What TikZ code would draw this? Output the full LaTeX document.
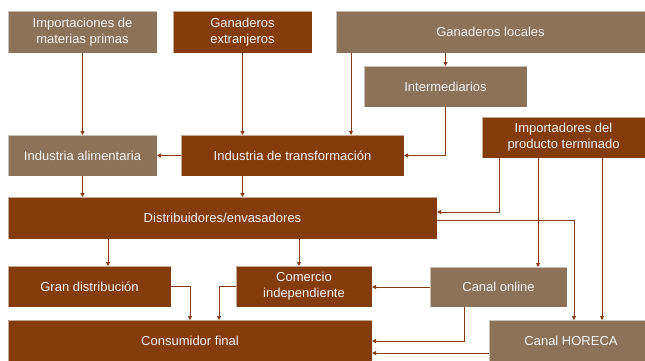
\documentclass[tikz,border=0pt]{standalone}
\usepackage{fontspec}
\setmainfont{Liberation Sans}
\usetikzlibrary{arrows.meta}
\definecolor{dbrown}{HTML}{843C0C}
\definecolor{gbrown}{HTML}{8B7259}
\definecolor{txt}{HTML}{F4F4F4}
\tikzset{
  box/.style={rectangle, inner sep=0pt, outer sep=0pt, draw=white, draw opacity=0.55,
    line width=0.6pt, text=txt, align=center,
    font=\fontsize{13}{16}\selectfont},
  dbox/.style={box, fill=dbrown},
  gbox/.style={box, fill=gbrown},
  arr/.style={draw=dbrown, line width=1pt, -{Triangle[length=4pt,width=4pt]}}
}
\begin{document}
\begin{tikzpicture}[x=1pt,y=-1pt]
\useasboundingbox (0,0) rectangle (645,360);
\clip (0,0) rectangle (645,360);
% boxes
\node[gbox, minimum width=149pt, minimum height=42pt] (imp) at (82.5,32) {Importaciones de\\materias primas};
\node[dbox, minimum width=139pt, minimum height=42pt] (gext) at (242.5,32) {Ganaderos\\extranjeros};
\node[gbox, minimum width=309pt, minimum height=42pt] (gloc) at (490.5,32) {Ganaderos locales};
\node[gbox, minimum width=163pt, minimum height=41pt] (inter) at (445.5,86.5) {Intermediarios};
\node[gbox, minimum width=149pt, minimum height=41pt] (ialim) at (82.5,155.5) {Industria alimentaria};
\node[dbox, minimum width=223pt, minimum height=41pt] (itrans) at (292.5,155.5) {Industria de transformación};
\node[dbox, minimum width=163pt, minimum height=41pt] (impt) at (563.5,137.5) {Importadores del\\producto terminado};
\node[dbox, minimum width=429pt, minimum height=42pt] (dist) at (222.5,218) {Distribuidores/envasadores};
\node[dbox, minimum width=163pt, minimum height=41pt] (gran) at (89.5,286.5) {Gran distribución};
\node[dbox, minimum width=136pt, minimum height=41pt] (comer) at (304,286.5) {Comercio\\independiente};
\node[gbox, minimum width=137pt, minimum height=40pt] (online) at (498.5,287) {Canal online};
\node[dbox, minimum width=364pt, minimum height=42pt] (cons) at (190,341) {Consumidor final};
\node[gbox, minimum width=164pt, minimum height=42pt] (horeca) at (571,341) {Canal HORECA};
% connectors
\draw[arr] (imp.south) -- (ialim.north);
\draw[arr] (gext.south) -- ([xshift=-50pt]itrans.north);
\draw[arr] ([xshift=15pt]gloc.south west) -- ([xshift=-53pt]itrans.north east);
\draw[arr] ([xshift=-45pt]gloc.south) -- (inter.north);
\draw[arr] (inter.south) |- (itrans.east);
\draw[arr] (itrans.west) -- (ialim.east);
\draw[arr] (ialim.south) -- ([xshift=-140pt]dist.north);
\draw[arr] ([xshift=-50pt]itrans.south) -- ([xshift=20pt]dist.north);
\draw[arr] ([xshift=17pt]impt.south west) |- ([yshift=6pt]dist.east);
\draw[arr] ([xshift=56pt]impt.south west) -- ([xshift=39.5pt]online.north);
\draw[arr] ([xshift=120pt]impt.south west) -- ([xshift=113pt]horeca.north west);
\draw[arr] ([yshift=-2pt]dist.east) -| ([xshift=85pt]horeca.north west);
\draw[arr] ([xshift=100pt]dist.south west) -- ([xshift=18.5pt]gran.north);
\draw[arr] ([xshift=76.5pt]dist.south) -- ([xshift=-5pt]comer.north);
\draw[arr] (gran.east) -| ([xshift=182pt]cons.north west);
\draw[arr] (comer.west) -| ([xshift=211pt]cons.north west);
\draw[arr] (online.west) -- (online.west -| comer.east);
\draw[arr] ([xshift=34pt]online.south west) |- (cons.east);
\draw[arr] ([yshift=-12pt]horeca.west) -- ([yshift=-12pt]cons.east);
\end{tikzpicture}
\end{document}
